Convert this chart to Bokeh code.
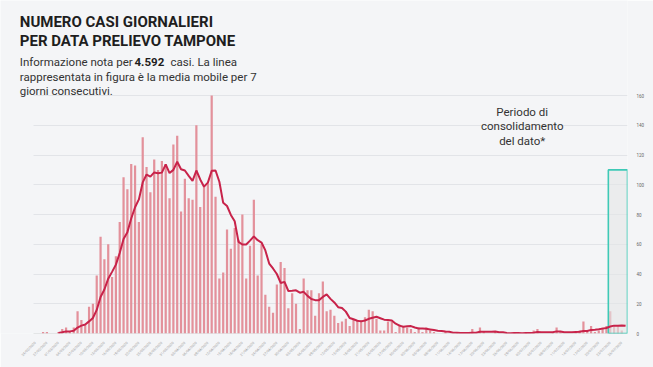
import math
import pandas as pd
from bokeh.plotting import figure
from bokeh.models import Range1d, FixedTicker, Label, ColumnDataSource
from bokeh.embed import file_html
from bokeh.resources import INLINE

# ---------------- data ----------------
START_DATE = "2020-02-24"
DAILY_CASES = [
    0, 0, 1, 1, 0, 0, 1, 3, 4, 1,
    4, 15, 9, 6, 18, 20, 39, 65, 50, 60,
    38, 52, 75, 105, 97, 114, 113, 75, 132, 112,
    95, 117, 110, 116, 114, 91, 127, 133, 82, 104,
    91, 90, 140, 85, 99, 101, 160, 92, 37, 41,
    70, 57, 71, 63, 80, 37, 59, 90, 39, 60,
    26, 18, 14, 33, 48, 44, 17, 27, 20, 3,
    37, 29, 29, 12, 27, 35, 15, 16, 12, 7,
    8, 10, 5, 9, 9, 9, 11, 16, 15, 10,
    2, 2, 8, 8, 1, 6, 5, 4, 3, 1,
    4, 1, 4, 2, 1, 0, 0, 1, 0, 0,
    1, 0, 0, 0, 3, 0, 4, 1, 0, 0,
    1, 0, 0, 0, 0, 1, 0, 0, 1, 0,
    2, 3, 0, 0, 0, 1, 4, 1, 0, 0,
    0, 1, 2, 8, 1, 5, 1, 2, 4, 5,
    15, 5, 5, 2, 0,
]
Y_TICKS = [0, 20, 40, 60, 80, 100, 120, 140, 160]
TICK_STEP_DAYS = 3
MOVING_WINDOW = 7
CONSOLIDATION_DAYS = 5
CONSOLIDATION_BOX_TOP = 110
TOTAL_CASES_TEXT = "4.592"

TITLE_LINES = ["NUMERO CASI GIORNALIERI", "PER DATA PRELIEVO TAMPONE"]
SUBTITLE_PRE = "Informazione nota per"
SUBTITLE_POST = "casi. La linea"
SUBTITLE_LINES = ["rappresentata in figura è la media mobile per 7", "giorni consecutivi."]
NOTE_LINES = ["Periodo di", "consolidamento", "del dato*"]

# ---------------- derived ----------------
n = len(DAILY_CASES)
dates = pd.date_range(START_DATE, periods=n, freq="D")
date_labels = [d.strftime("%d/%m/%Y") for d in dates]
moving_avg = pd.Series(DAILY_CASES, dtype=float).rolling(MOVING_WINDOW).mean()

src = ColumnDataSource(dict(x=list(range(n)), cases=DAILY_CASES, avg=moving_avg.tolist()))

# ---------------- layout ----------------
W, H = 653, 367
PLOT_LEFT_PX = 33          # where the day slots begin
MR, MB = 26, 34
frame_w = W - MR
frame_h = H - MB
TOP_GRID_PX = 95           # pixel row of the highest gridline
first_slot, last_slot = -0.5, n - 0.5
px_per_day = (frame_w - PLOT_LEFT_PX) / (last_slot - first_slot)
x0 = first_slot - PLOT_LEFT_PX / px_per_day
y_top = Y_TICKS[-1] * frame_h / (frame_h - TOP_GRID_PX)
px_per_unit = frame_h / y_top


def dx(px):
    return x0 + px / px_per_day


def dy(py):
    return (frame_h - py) / px_per_unit


BG = "#f4f5f7"
GRID = "#e2e4e8"

p = figure(width=W, height=H, x_range=Range1d(x0, last_slot), y_range=Range1d(0, y_top),
           output_backend="svg", toolbar_location=None, y_axis_location="right")
p.min_border_left = 0
p.min_border_right = MR
p.min_border_top = 0
p.min_border_bottom = MB
p.background_fill_color = BG
p.border_fill_color = BG
p.outline_line_color = None

xa = p.xaxis[0]
xa.ticker = FixedTicker(ticks=list(range(0, n, TICK_STEP_DAYS)))
xa.major_label_overrides = {i: date_labels[i] for i in range(0, n, TICK_STEP_DAYS)}
xa.major_label_orientation = math.pi / 4
xa.major_label_text_font_size = "3.5px"
xa.major_label_text_color = "#9a9a9a"
xa.major_label_text_font = "Roboto"
xa.axis_line_color = None
xa.major_tick_line_color = None
xa.minor_tick_line_color = None
xa.major_label_standoff = 3

ya = p.yaxis[0]
ya.ticker = FixedTicker(ticks=Y_TICKS)
ya.axis_line_color = None
ya.major_tick_line_color = None
ya.minor_tick_line_color = None
ya.major_label_text_font_size = "4.5px"
ya.major_label_text_color = "#666666"
ya.major_label_text_font = "Roboto"
ya.major_label_standoff = 3

p.xgrid.grid_line_color = None
ygrid = p.ygrid[0]
if "cross_bounds" in ygrid.properties():
    ygrid.cross_bounds = (first_slot, last_slot)
    ygrid.grid_line_color = GRID
    ygrid.grid_line_width = 1
else:
    ygrid.grid_line_color = None
    p.segment(x0=[first_slot] * len(Y_TICKS), x1=[last_slot] * len(Y_TICKS),
              y0=Y_TICKS, y1=Y_TICKS, line_color=GRID, line_width=1)

# baseline
p.segment(x0=[first_slot], x1=[last_slot], y0=[0], y1=[0], line_color="#cfd1d4", line_width=1)

p.vbar(x="x", top="cases", width=0.58, source=src, fill_color="#e3919b", line_color=None)

p.quad(left=n - CONSOLIDATION_DAYS - 0.5, right=n - 0.5, bottom=0, top=CONSOLIDATION_BOX_TOP,
       fill_color="#e4e6e6", fill_alpha=0.6, line_color="#3ec9b6", line_width=1.6)

p.line(x="x", y="avg", source=src, line_color="#c8234a", line_width=2)


# ---------------- texts ----------------
def add_text(px, py, text, size, bold=False, color="#222222", align="left"):
    p.add_layout(Label(x=dx(px), y=dy(py), text=text, text_font="Roboto",
                       text_font_size=size, text_font_style="bold" if bold else "normal",
                       text_color=color, text_baseline="alphabetic", text_align=align))


add_text(19.3, 21.7, TITLE_LINES[0], "15px", bold=True, color="#1e1e1e")
add_text(19.3, 40.7, TITLE_LINES[1], "15px", bold=True, color="#1e1e1e")
add_text(19.3, 61, SUBTITLE_PRE, "11.5px", color="#333333")
add_text(134, 61, TOTAL_CASES_TEXT, "11.5px", bold=True, color="#1e1e1e")
add_text(170, 61, SUBTITLE_POST, "11.5px", color="#333333")
add_text(19.3, 76, SUBTITLE_LINES[0], "11.5px", color="#333333")
add_text(19.3, 90, SUBTITLE_LINES[1], "11.5px", color="#333333")
for k, line in enumerate(NOTE_LINES):
    add_text(521.7, 111.7 + 14.2 * k, line, "11.5px", color="#333333", align="center")

open("out.html", "w").write(file_html(p, INLINE))
